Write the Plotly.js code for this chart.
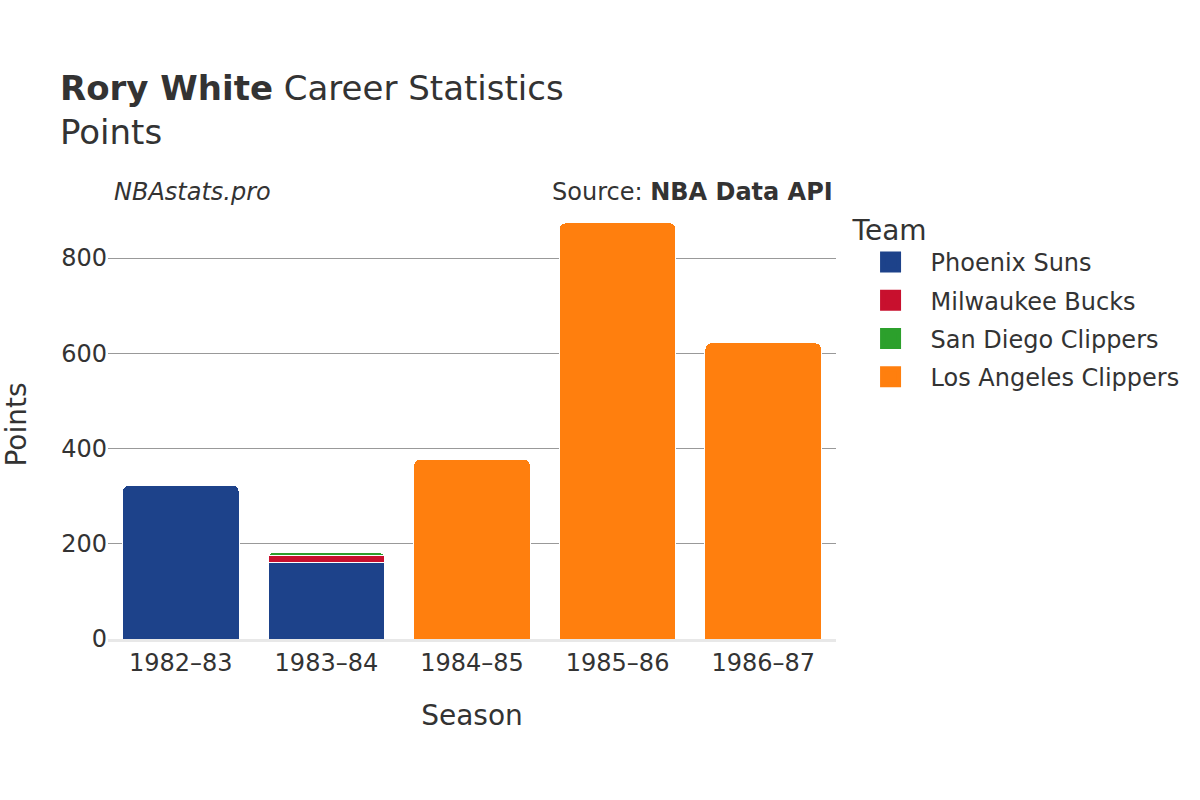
<!DOCTYPE html>
<html>
<head>
<meta charset="utf-8">
<script src="https://cdn.plot.ly/plotly-3.0.1.min.js"></script>
<style>
  body { margin: 0; background: #fff; }
  #chart { width: 1200px; height: 800px; }
</style>
</head>
<body>
<div id="chart"></div>
<script>
// Rory White - points per season, split by team
const seasons = ['1982–83', '1983–84', '1984–85', '1985–86', '1986–87'];

const teams = ['Phoenix Suns', 'Milwaukee Bucks', 'San Diego Clippers', 'Los Angeles Clippers'];
const teamColors = ['#1d428a', '#c8102e', '#2ca02c', '#ff7f0e'];

const phoenixPts = [323, 160, null, null, null];
const bucksPts = [null, 15, null, null, null];
const sdClippersPts = [null, 7, null, null, null];
const laClippersPts = [null, null, 377, 874, 622];

const seriesValues = [phoenixPts, bucksPts, sdClippersPts, laClippersPts];

const font = 'DejaVu Sans, sans-serif';

// the bars themselves, legend entries are drawn by the marker-only traces below
const barTraces = teams.map((name, i) => ({
    type: 'bar',
    name: name,
    legendgroup: name,
    showlegend: false,
    x: seasons,
    y: seriesValues[i],
    marker: { color: teamColors[i], line: { color: '#fff', width: 1 } },
    hovertemplate: '%{x}: %{y}<extra>' + name + '</extra>'
}));

// bigger legend swatches than the bar default
const legendTraces = teams.map((name, i) => ({
    type: 'scatter',
    mode: 'markers',
    name: name,
    legendgroup: name,
    x: [null],
    y: [null],
    marker: { symbol: 'square', size: 16, color: teamColors[i], line: { color: teamColors[i], width: 5 } },
    hoverinfo: 'skip'
}));

const layout = {
    width: 1200,
    height: 800,
    barmode: 'stack',
    bargap: 0.2,
    barcornerradius: 6,
    paper_bgcolor: '#fff',
    plot_bgcolor: '#fff',
    font: { family: font, color: '#333', size: 24 },
    margin: { l: 108, r: 364, t: 210, b: 161 },
    title: {
        text: '<b>Rory White</b> Career Statistics<br>Points',
        x: 0.05, xanchor: 'left',
        y: 0.875, yanchor: 'top',
        font: { family: font, size: 34, color: '#333' }
    },
    xaxis: {
        title: { text: 'Season', font: { size: 28 }, standoff: 30 },
        tickfont: { size: 24 },
        showline: true, linecolor: '#e8e8e8', linewidth: 3,
        ticks: ''
    },
    yaxis: {
        title: { text: 'Points', font: { size: 28 }, standoff: 28 },
        tickfont: { size: 24 },
        range: [0, 901],
        dtick: 200,
        gridcolor: '#999', gridwidth: 1,
        zeroline: false
    },
    legend: {
        title: { text: 'Team', font: { size: 28 } },
        font: { size: 24 },
        x: 1.02, xanchor: 'left',
        y: 1.015, yanchor: 'top',
        traceorder: 'grouped',
        tracegroupgap: 4,
        itemwidth: 70
    },
    annotations: [
        {
            text: '<i>NBAstats.pro</i>',
            xref: 'paper', yref: 'paper',
            x: 0.005, y: 1.005, xanchor: 'left', yanchor: 'bottom',
            showarrow: false, font: { size: 24, color: '#333' }
        },
        {
            text: 'Source: <b>NBA Data API</b>',
            xref: 'paper', yref: 'paper',
            x: 0.999, y: 1.005, xanchor: 'right', yanchor: 'bottom',
            showarrow: false, font: { size: 24, color: '#333' }
        }
    ]
};

Plotly.newPlot('chart', barTraces.concat(legendTraces), layout, { displayModeBar: false });
</script>
</body>
</html>
